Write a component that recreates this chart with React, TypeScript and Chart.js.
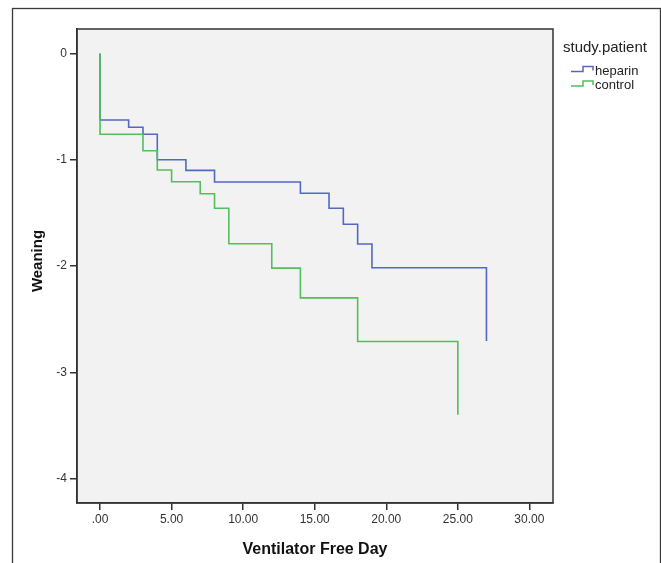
import React, { useEffect, useRef } from "react";
import { Chart, registerables } from "chart.js";

Chart.register(...registerables);

// ---- Data ----
const seriesNames = ["heparin", "control"];
const heparinDays = [0, 0, 2, 3, 4, 6, 8, 14, 16, 17, 18, 19, 27];
const heparinWeaning = [0, -0.626, -0.695, -0.76, -1.0, -1.1, -1.21, -1.315, -1.457, -1.607, -1.793, -2.016, -2.706];
const controlDays = [0, 0, 3, 4, 5, 7, 8, 9, 12, 14, 18, 25];
const controlWeaning = [0, -0.76, -0.915, -1.097, -1.207, -1.32, -1.457, -1.79, -2.02, -2.3, -2.71, -3.4];
const xTickValues = [0, 5, 10, 15, 20, 25, 30];
const yTickValues = [-4, -3, -2, -1, 0];
const legendTitle = "study.patient";
const xAxisTitle = "Ventilator Free Day";
const yAxisTitle = "Weaning";

const BLUE = "#5468c2";
const GREEN = "#52bf5c";
const DARK = "#333333";
const FONT = "'Liberation Sans', Arial, sans-serif";

const toPoints = (xs: number[], ys: number[]) => xs.map((x, i) => ({ x, y: ys[i] }));

const decorPlugin = {
  id: "decor",
  beforeDraw(chart: any) {
    const { ctx, chartArea: a, width, height } = chart;
    ctx.save();
    ctx.fillStyle = "#ffffff";
    ctx.fillRect(0, 0, width, height);
    ctx.strokeStyle = "#3a3a3a";
    ctx.lineWidth = 1.3;
    ctx.strokeRect(12.5, 8.5, 648, 620);
    ctx.fillStyle = "#f2f2f2";
    ctx.fillRect(a.left, a.top, a.right - a.left, a.bottom - a.top);
    ctx.restore();
  },
  afterDraw(chart: any) {
    const { ctx, chartArea: a } = chart;
    ctx.save();
    // plot frame
    ctx.strokeStyle = DARK;
    ctx.lineWidth = 1.5;
    ctx.strokeRect(a.left, a.top, a.right - a.left, a.bottom - a.top);

    // legend
    ctx.fillStyle = "#222";
    ctx.textAlign = "left";
    ctx.textBaseline = "alphabetic";
    ctx.font = `15px ${FONT}`;
    ctx.fillText(legendTitle, 563, 51.5);
    const colors = [BLUE, GREEN];
    seriesNames.forEach((name, i) => {
      const dy = i * 14.5;
      ctx.strokeStyle = colors[i];
      ctx.lineWidth = 1.5;
      ctx.beginPath();
      ctx.moveTo(571, 71.5 + dy);
      ctx.lineTo(583, 71.5 + dy);
      ctx.lineTo(583, 66.5 + dy);
      ctx.lineTo(593, 66.5 + dy);
      ctx.lineTo(593, 70.5 + dy);
      ctx.stroke();
      ctx.fillStyle = "#222";
      ctx.font = `13px ${FONT}`;
      ctx.fillText(name, 595, 74.5 + dy);
    });

    // axis titles
    ctx.font = `bold 16px ${FONT}`;
    ctx.textAlign = "center";
    ctx.fillStyle = "#111";
    ctx.fillText(xAxisTitle, (a.left + a.right) / 2, 554);
    ctx.save();
    ctx.translate(42, 261);
    ctx.rotate(-Math.PI / 2);
    ctx.font = `bold 15px ${FONT}`;
    ctx.fillText(yAxisTitle, 0, 0);
    ctx.restore();
    ctx.restore();
  },
};

export default function App() {
  const ref = useRef<HTMLCanvasElement | null>(null);
  useEffect(() => {
    if (!ref.current) return;
    const chart = new Chart(ref.current, {
      type: "line",
      data: {
        datasets: [
          {
            label: seriesNames[0],
            data: toPoints(heparinDays, heparinWeaning),
            borderColor: BLUE,
            borderWidth: 1.6,
            stepped: true,
            pointRadius: 0,
            fill: false,
            order: 1,
          },
          {
            label: seriesNames[1],
            data: toPoints(controlDays, controlWeaning),
            borderColor: GREEN,
            borderWidth: 1.6,
            stepped: true,
            pointRadius: 0,
            fill: false,
            order: 0,
          },
        ],
      },
      options: {
        animation: false,
        responsive: false,
        devicePixelRatio: 1,
        layout: { padding: { top: 29, right: 108, left: 0, bottom: 0 } },
        plugins: { legend: { display: false }, tooltip: { enabled: false } },
        scales: {
          x: {
            type: "linear",
            min: -1.61,
            max: 31.65,
            afterBuildTicks: (s: any) => {
              s.ticks = xTickValues.map((v) => ({ value: v }));
            },
            afterFit: (s: any) => {
              s.height = 60;
            },
            ticks: {
              callback: (v: any) => (Number(v) === 0 ? ".00" : Number(v).toFixed(2)),
              font: { family: FONT, size: 12 },
              color: DARK,
              padding: 2,
              maxRotation: 0,
              autoSkip: false,
            },
            grid: { drawOnChartArea: false, drawTicks: true, tickLength: 7, color: DARK, lineWidth: 1.5 },
            border: { display: true, color: DARK, width: 1.5 },
          },
          y: {
            type: "linear",
            min: -4.23,
            max: 0.23,
            afterBuildTicks: (s: any) => {
              s.ticks = yTickValues.map((v) => ({ value: v }));
            },
            afterFit: (s: any) => {
              s.width = 77;
            },
            ticks: {
              callback: (v: any) => String(v),
              font: { family: FONT, size: 12 },
              color: DARK,
              padding: 3,
              autoSkip: false,
            },
            grid: { drawOnChartArea: false, drawTicks: true, tickLength: 7, color: DARK, lineWidth: 1.5 },
            border: { display: true, color: DARK, width: 1.5 },
          },
        },
      },
      plugins: [decorPlugin],
    });
    return () => chart.destroy();
  }, []);
  return (
    <div style={{ position: "fixed", left: 0, top: 0, width: 661, height: 563, background: "#fff" }}>
      <canvas ref={ref} width={661} height={563} style={{ width: 661, height: 563, display: "block" }} />
    </div>
  );
}
